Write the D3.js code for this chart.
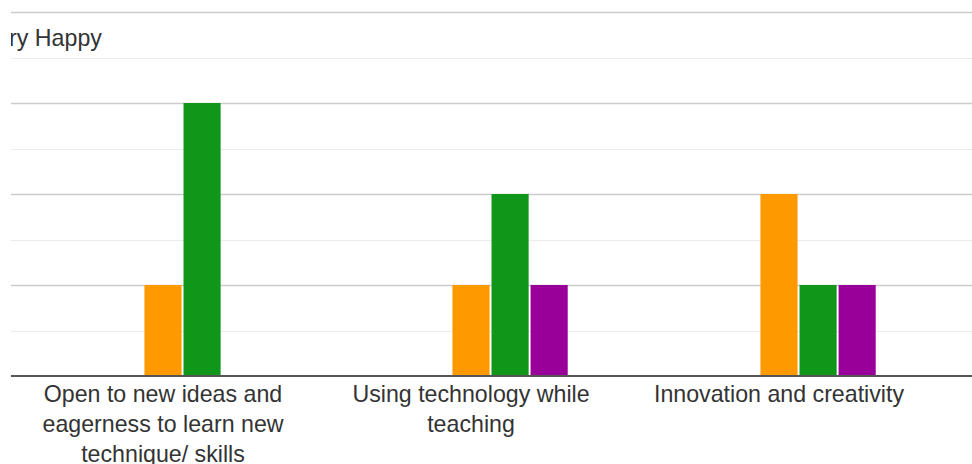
<!DOCTYPE html>
<html>
<head>
<meta charset="utf-8">
<script src="https://cdn.jsdelivr.net/npm/d3@7"></script>
<style>
  html, body { margin: 0; padding: 0; background: #fff; }
  svg { display: block; }
  text { font-family: "Liberation Sans", Arial, sans-serif; }
</style>
</head>
<body>
<svg id="chart" width="972" height="464"></svg>
<script>
const categories = [
  ["Open to new ideas and", "eagerness to learn new", "technique/ skills"],
  ["Using technology while", "teaching"],
  ["Innovation and creativity"]
];
const categoryKeys = ["Open to new ideas", "Using technology", "Innovation"];
const seriesNames = ["Very Unhappy", "Unhappy", "Neutral", "Happy", "Very Happy"];
const seriesColors = ["#3366cc", "#dc3912", "#ff9900", "#109618", "#990099"];
const seriesValues = [
  [0, 0, 0],   // Very Unhappy
  [0, 0, 0],   // Unhappy
  [1, 1, 2],   // Neutral
  [3, 2, 1],   // Happy
  [0, 1, 1]    // Very Happy
];
const majorTicks = [0, 1, 2, 3, 4];
const minorTicks = [0.5, 1.5, 2.5, 3.5];
const legendLabel = "Very Happy";

const svg = d3.select("#chart");
const clipLeft = 11;
svg.append("defs").append("clipPath").attr("id", "clip")
  .append("rect").attr("x", clipLeft).attr("y", 0).attr("width", 972 - clipLeft).attr("height", 464);
const g = svg.append("g").attr("clip-path", "url(#clip)");

const y = d3.scaleLinear().domain([0, 4]).range([376, 12]);
const x0 = d3.scaleBand().domain(categoryKeys).range([9, 933]).paddingInner(0.372).paddingOuter(0.186);
const x1 = d3.scaleBand().domain(seriesNames).range([0, x0.bandwidth()]).paddingInner(0.05);

// minor gridlines
g.selectAll("line.minor").data(minorTicks).join("line")
  .attr("x1", 0).attr("x2", 972)
  .attr("y1", d => Math.round(y(d)) + 0.5).attr("y2", d => Math.round(y(d)) + 0.5)
  .attr("stroke", "#ebebeb").attr("stroke-width", 1);
// major gridlines
g.selectAll("line.major").data(majorTicks.filter(d => d > 0)).join("line")
  .attr("x1", 0).attr("x2", 972)
  .attr("y1", d => Math.round(y(d)) + 0.5).attr("y2", d => Math.round(y(d)) + 0.5)
  .attr("stroke", "#cccccc").attr("stroke-width", 1.3);

// bars
const data = [];
seriesNames.forEach((s, si) => {
  categoryKeys.forEach((c, ci) => {
    data.push({ s, c, v: seriesValues[si][ci], color: seriesColors[si] });
  });
});
g.selectAll("rect.bar").data(data.filter(d => d.v > 0)).join("rect")
  .attr("class", "bar")
  .attr("x", d => x0(d.c) + x1(d.s))
  .attr("width", x1.bandwidth())
  .attr("y", d => y(d.v))
  .attr("height", d => y(0) - y(d.v))
  .attr("fill", d => d.color);

// baseline
g.append("line").attr("x1", 0).attr("x2", 972)
  .attr("y1", y(0)).attr("y2", y(0))
  .attr("stroke", "#555555").attr("stroke-width", 2);

// category labels
const xAxis = d3.axisBottom(x0).tickSize(0).tickFormat("");
const axisG = g.append("g").attr("transform", `translate(0,${y(0)})`).call(xAxis);
axisG.select(".domain").remove();
axisG.selectAll(".tick").each(function(d, i) {
  const t = d3.select(this).append("text")
    .attr("fill", "#333333").attr("font-size", 23.2).attr("text-anchor", "middle");
  categories[i].forEach((line, li) => {
    t.append("tspan").attr("x", 0).attr("y", 26 + li * 30).text(line);
  });
});

// legend (partially clipped on the left)
g.append("text").attr("x", -18).attr("y", 46)
  .attr("fill", "#333333").attr("font-size", 23.2).text(legendLabel);
</script>
</body>
</html>
